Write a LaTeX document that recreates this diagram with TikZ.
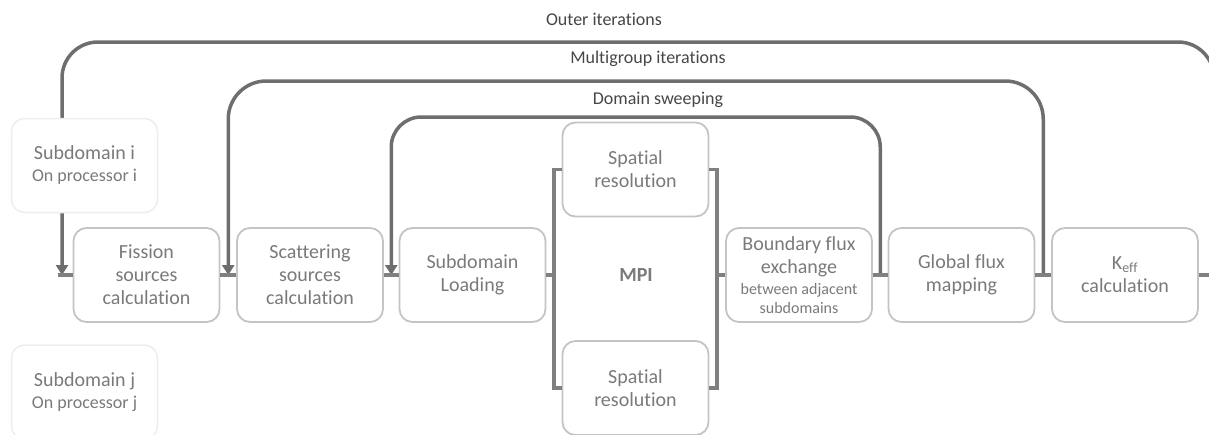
\documentclass[tikz,border=0pt]{standalone}
\usepackage{fontspec}
\setmainfont{Carlito}[Ligatures=NoCommon]
\usetikzlibrary{arrows.meta,calc,backgrounds}
\definecolor{boxline}{HTML}{C4C4C4}
\definecolor{txt}{HTML}{7A7A7A}
\definecolor{lblc}{HTML}{464646}
\definecolor{loopc}{HTML}{6E6E6E}
\definecolor{connc}{HTML}{808080}
\definecolor{faint}{HTML}{EDEDED}
\begin{document}
\begin{tikzpicture}[x=1pt,y=-1pt,
 box/.style={draw=boxline, line width=1.8pt, fill=white, rounded corners=13pt,
   minimum width=146pt, minimum height=94pt, inner sep=0pt, align=center,
   text=txt, font=\fontsize{20}{23}\selectfont},
 sbox/.style={box, draw=faint, line width=1.5pt},
 lbl/.style={text=lblc, font=\fontsize{18}{21}\selectfont},
 conn/.style={draw=connc, line width=3.5pt},
 loopline/.style={draw=loopc, line width=3.5pt, -{Triangle[width=12pt,length=10pt]}},
]
\useasboundingbox (0,0) rectangle (1209,434);

% nodes
\node[sbox] (sdi) at (84.5,165.5) {Subdomain i\\[-1pt]{\fontsize{18}{21}\selectfont On processor i}};
\node[sbox] (sdj) at (84.5,392) {Subdomain j\\[-1pt]{\fontsize{18}{21}\selectfont On processor j}};
\node[box] (fis) at (146.5,275) {Fission\\sources\\calculation};
\node[box] (sca) at (310,275) {Scattering\\sources\\calculation};
\node[box] (load) at (472.5,275) {Subdomain\\Loading};
\node[box] (sp1) at (635.5,169.5) {Spatial\\resolution};
\node[box] (sp2) at (635.5,388) {Spatial\\resolution};
\node[text=txt, font=\fontsize{20}{23}\selectfont\bfseries] (mpi) at (636,275) {MPI};
\node[box] (bnd) at (799,275) {Boundary flux\\exchange\\[-2pt]{\fontsize{16}{19}\selectfont between adjacent}\\[-4pt]{\fontsize{16}{19}\selectfont subdomains}};
\node[box] (glob) at (961.5,275) {Global flux\\mapping};
\node[box] (keff) at (1125,275) {K\textsubscript{eff}\\calculation};

\node[lbl] (louter) at (604,19) {Outer iterations};
\node[lbl] (lmulti) at (648,59) {Multigroup iterations};
\node[lbl] (ldom) at (658,100) {Domain sweeping};

% coordinates
\coordinate (a1) at (62,275);
\coordinate (a2) at ($(fis.east)!0.5!(sca.west)$);
\coordinate (a3) at ($(sca.east)!0.5!(load.west)$);
\coordinate (bl) at (554,275);
\coordinate (br) at (717,275);
\coordinate (r3) at ($(bnd.east)!0.5!(glob.west)$);
\coordinate (r2) at ($(glob.east)!0.5!(keff.west)$);
\coordinate (r1) at (1214,275);

\begin{scope}[on background layer]
\draw[loopline, rounded corners=36pt] (r1) -- (r1 |- 0,42) -- (a1 |- 0,42) -- (a1);
\draw[loopline, rounded corners=38pt] (r2) -- (r2 |- 0,81) -- (a2 |- 0,81) -- (a2);
\draw[loopline, rounded corners=30pt] (r3) -- (r3 |- 0,117) -- (a3 |- 0,117) -- (a3);
\end{scope}

% connectors
\draw[conn] ([xshift=-4pt]a1) -- (fis.west);
\draw[conn] (fis.east) -- (sca.west);
\draw[conn] (sca.east) -- (load.west);
\draw[conn] (load.east) -- (bl);
\draw[conn] (sp1.west) -| (bl) |- (sp2.west);
\draw[conn] (sp1.east) -| (br) |- (sp2.east);
\draw[conn] (br) -- (bnd.west);
\draw[conn] (bnd.east) -- (glob.west);
\draw[conn] (glob.east) -- (keff.west);
\draw[conn] (keff.east) -- (r1);
\end{tikzpicture}
\end{document}
